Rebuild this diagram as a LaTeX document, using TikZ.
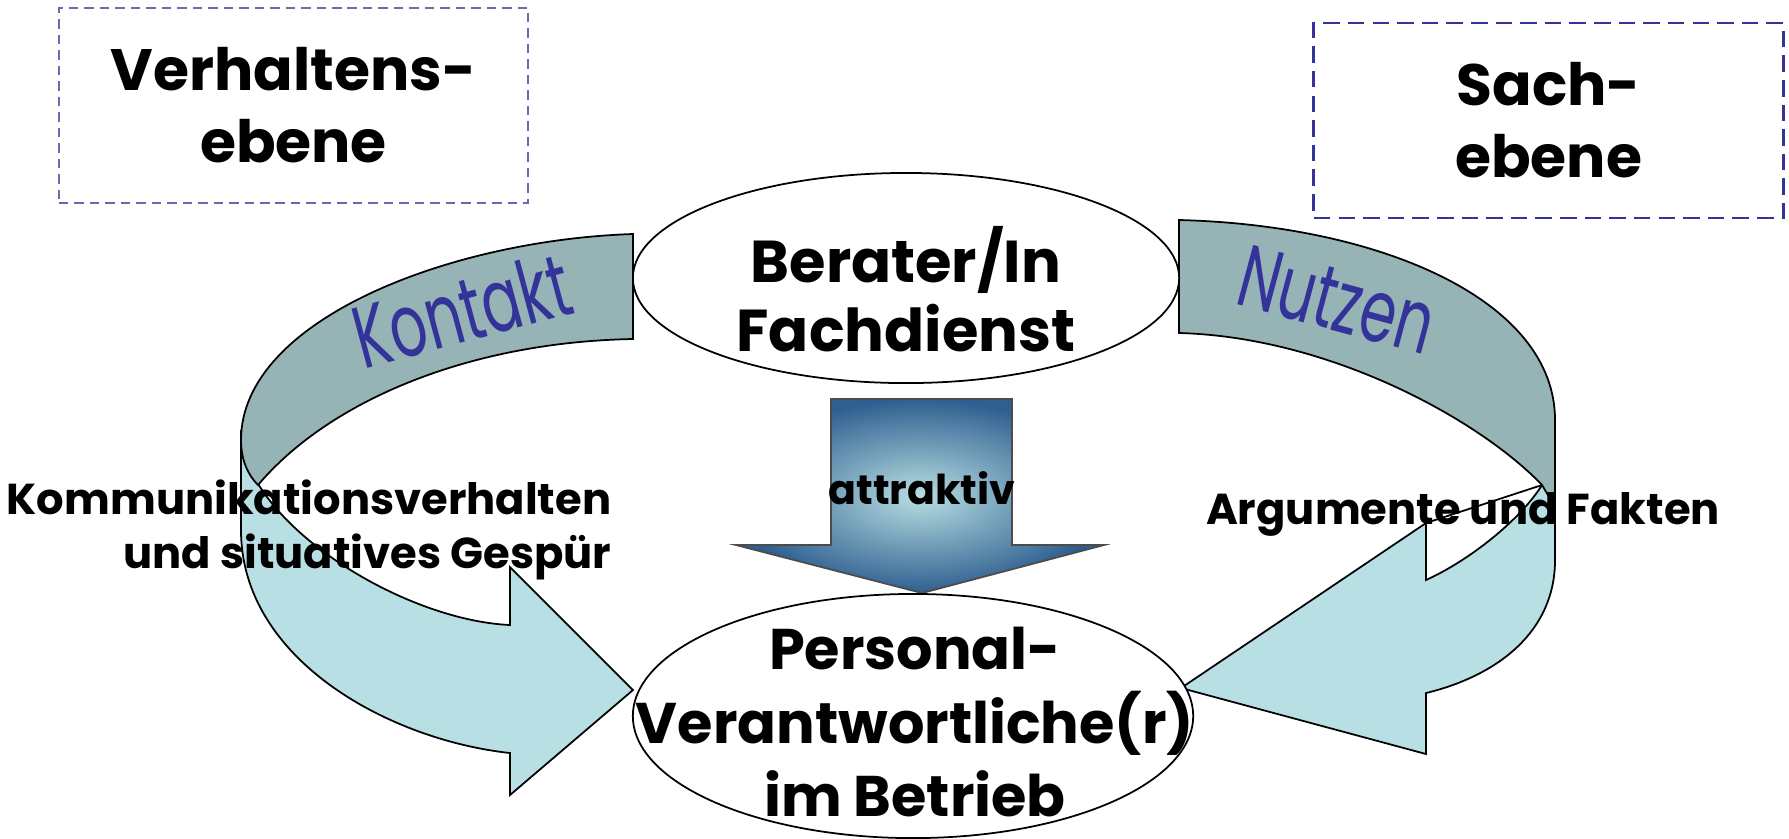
\documentclass[tikz,border=0pt]{standalone}
\usepackage{fontspec}
\setmainfont{Poppins}
\usetikzlibrary{shapes.geometric}
\definecolor{bandDark}{HTML}{96B3B5}
\definecolor{bandLight}{HTML}{B8DFE3}
\definecolor{txtBlue}{HTML}{333399}
\definecolor{boxBlue}{HTML}{6A6AB0}
\definecolor{arrDark}{HTML}{2F5F90}
\definecolor{arrLight}{HTML}{B8DEE2}
\tikzset{
  levelbox/.style={rectangle, minimum width=4.69cm, minimum height=1.95cm, align=center, font=\bfseries\fontsize{16.6}{20.5}\selectfont},
  rolebubble/.style={draw, ellipse, fill=white, inner sep=0pt, line width=0.5pt},
  roletext/.style={align=center, inner sep=0pt},
  sidetext/.style={align=right, inner sep=0pt, font=\bfseries\fontsize{12.3}{15.4}\selectfont},
  ribbontext/.style={text=txtBlue, inner sep=0pt, font=\fontsize{25}{25}\selectfont},
  band/.style={draw, line width=0.5pt}
}
\begin{document}
\begin{tikzpicture}[x=0.01cm,y=-0.01cm]
\useasboundingbox (0,0) rectangle (1789,838);
\node[levelbox, draw=boxBlue, line width=0.45pt, dash pattern=on 2.7pt off 1.7pt] (verh) at (293.5,105.5) {Verhaltens-\\ebene};
\node[levelbox, draw=txtBlue, line width=0.8pt, dash pattern=on 4.7pt off 2.3pt] (sach) at (1548.5,120.5) {Sach-\\ebene};

\draw[band, fill=bandLight] (241,430) -- (241,530) .. controls (241,660) and (390,740) .. (510,753) -- (510,795) -- (633,690) -- (510,567) -- (510,625) .. controls (400,620) and (241,520) .. (241,430) -- cycle;
\draw[band, fill=bandDark] (633,234) .. controls (450,240) and (241,320) .. (241,440) .. controls (241,460) and (248,475) .. (258,485) .. controls (330,400) and (470,342) .. (633,339) -- cycle;
\draw[band, fill=bandLight] (1555,430) -- (1555,560) .. controls (1555,630) and (1500,675) .. (1426,693) -- (1426,754) -- (1181,688) -- (1426,523) -- (1426,580) .. controls (1470,560) and (1520,520) .. (1542,485) -- cycle;
\draw[band] (1426,523) -- (1542,485);
\draw[band, fill=bandDark] (1179,220) .. controls (1380,225) and (1555,300) .. (1555,420) -- (1555,507) -- (1542,485) .. controls (1480,420) and (1330,337) .. (1179,333) -- cycle;

\node[ribbontext, rotate=15] (kontakt) at (462,310) {\scalebox{0.66}[1]{Kontakt}};
\node[ribbontext, rotate=-15] (nutzen) at (1337,300) {\scalebox{0.66}[1]{Nutzen}};

\shade[draw=gray!60!black, line width=0.5pt, inner color=arrLight, outer color=arrDark] (831,399) -- (1012,399) -- (1012,545) -- (1104,545) -- (922,593) -- (736,545) -- (831,545) -- cycle;
\node[inner sep=0pt, font=\bfseries\fontsize{11.7}{14}\selectfont] (attr) at (922,488) {attraktiv};

\node[rolebubble, minimum width=5.46cm, minimum height=2.10cm] (berater) at (906,278) {};
\node[roletext, font=\bfseries\fontsize{16.8}{19.5}\selectfont] (beratertxt) at (906,289) {Berater/In\\Fachdienst};
\node[rolebubble, minimum width=5.60cm, minimum height=2.44cm] (personal) at (913,716) {};
\node[roletext, font=\bfseries\fontsize{16.3}{21}\selectfont] (personaltxt) at (915,722) {Personal-\\Verantwortliche(r)\\im Betrieb};

\node[sidetext, anchor=east] (komm) at (612,530) {Kommunikationsverhalten\\und situatives Gespür};
\node[sidetext] (argu) at (1463,514) {Argumente und Fakten};
\end{tikzpicture}
\end{document}
